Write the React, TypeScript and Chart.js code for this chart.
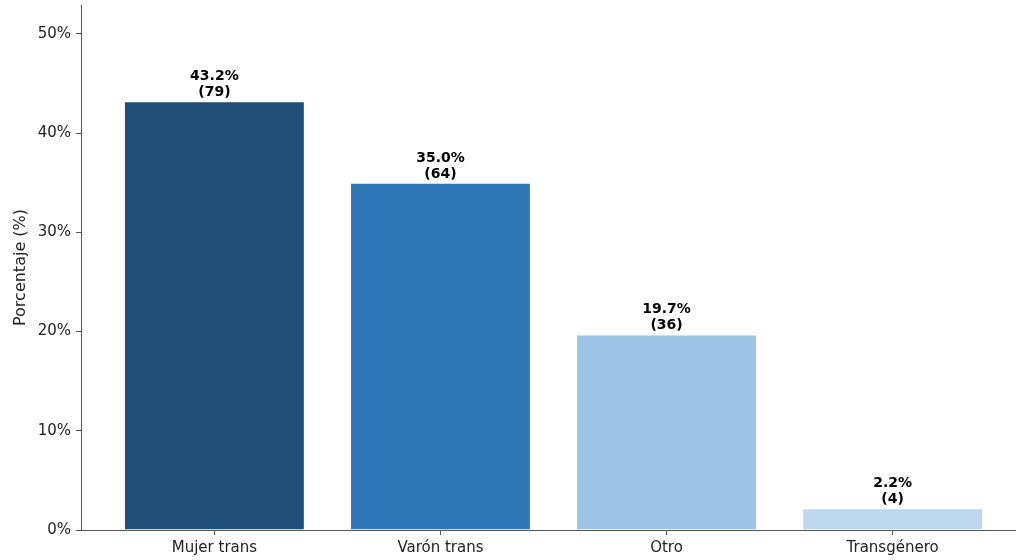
import React, { useEffect, useRef } from "react";
import { Chart, registerables } from "chart.js";

Chart.register(...registerables);

const categories = ["Mujer trans", "Varón trans", "Otro", "Transgénero"];
const percentages = [43.2, 35.0, 19.7, 2.2];
const counts = [79, 64, 36, 4];
const colors = ["#1f4e79", "#2e75b6", "#9dc3e6", "#bdd7ee"];
const yTicks = [0, 10, 20, 30, 40, 50];

const FONT = "'DejaVu Sans', sans-serif";

const labelPlugin = {
  id: "barLabels",
  afterDatasetsDraw(chart: any) {
    const ctx = chart.ctx;
    const meta = chart.getDatasetMeta(0);
    ctx.save();
    ctx.fillStyle = "#000";
    ctx.font = `bold 14px ${FONT}`;
    ctx.textAlign = "center";
    ctx.textBaseline = "alphabetic";
    meta.data.forEach((bar: any, i: number) => {
      const x = bar.x;
      const y = bar.y;
      ctx.fillText(`${percentages[i].toFixed(1)}%`, x, y - 21);
      ctx.fillText(`(${counts[i]})`, x, y - 5);
    });
    ctx.restore();
  },
};

export default function App() {
  const ref = useRef<HTMLCanvasElement | null>(null);
  useEffect(() => {
    if (!ref.current) return;
    const chart = new Chart(ref.current, {
      type: "bar",
      data: {
        datasets: [
          {
            data: percentages.map((v, i) => ({ x: i, y: v })),
            backgroundColor: colors,
            borderColor: "#ffffff",
            borderWidth: 1,
            barPercentage: 0.8,
            categoryPercentage: 1,
          },
        ],
      },
      options: {
        animation: false,
        responsive: false,
        maintainAspectRatio: false,
        layout: { padding: { left: 0, right: 4, top: 5, bottom: 0 } },
        plugins: {
          legend: { display: false },
          tooltip: { enabled: false },
        },
        scales: {
          x: {
            type: "linear",
            offset: false,
            min: -0.59,
            max: 3.59,
            afterBuildTicks(scale: any) {
              scale.ticks = categories.map((_, i) => ({ value: i }));
            },
            afterFit(scale: any) {
              scale.height = 30;
              scale.paddingLeft = 0;
              scale.paddingRight = 0;
            },
            ticks: {
              callback: (v: any) => categories[Math.round(Number(v))] ?? "",
              color: "#222",
              font: { family: FONT, size: 15 },
              padding: 4,
              maxRotation: 0,
              autoSkip: false,
            },
            grid: {
              offset: false,
              drawOnChartArea: false,
              drawTicks: true,
              tickLength: 5,
              color: "#555",
            },
            border: { display: true, color: "#555", width: 1 },
          },
          y: {
            min: 0,
            max: 52.9,
            afterBuildTicks(scale: any) {
              scale.ticks = yTicks.map((v) => ({ value: v }));
            },
            afterFit(scale: any) {
              scale.width = 81;
              scale.paddingTop = 0;
              scale.paddingBottom = 0;
            },
            ticks: {
              callback: (v: any) => `${v}%`,
              color: "#222",
              font: { family: FONT, size: 15 },
              padding: 5,
            },
            grid: {
              drawOnChartArea: false,
              drawTicks: true,
              tickLength: 5,
              color: "#555",
            },
            border: { display: true, color: "#555", width: 1 },
            title: {
              display: true,
              text: "Porcentaje (%)",
              color: "#222",
              font: { family: FONT, size: 16 },
              padding: { top: 11, bottom: 0 },
            },
          },
        },
      },
      plugins: [labelPlugin],
    });
    return () => chart.destroy();
  }, []);

  return (
    <div
      style={{
        position: "fixed",
        left: 0,
        top: 0,
        width: 1016,
        height: 560,
        overflow: "hidden",
        background: "#fff",
      }}
    >
      <canvas ref={ref} width={1030} height={560} style={{ width: 1030, height: 560, display: "block" }} />
    </div>
  );
}
